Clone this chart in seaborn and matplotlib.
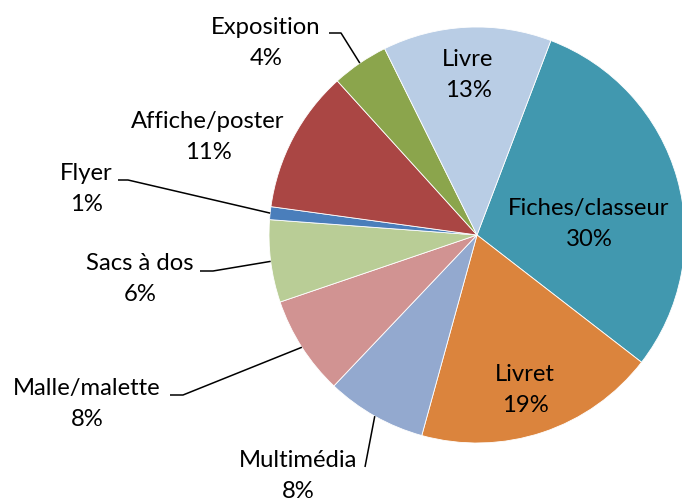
import numpy as np
import matplotlib
matplotlib.use("Agg")
import matplotlib.pyplot as plt
import seaborn as sns

# data (clockwise, starting with Fiches/classeur)
categories = ["Fiches/classeur", "Livret", "Multimédia", "Malle/malette", "Sacs à dos",
              "Flyer", "Affiche/poster", "Exposition", "Livre"]
values = [29.7, 18.8, 7.8, 7.7, 6.4, 1.0, 11.1, 4.4, 13.1]
colors = ["#4198AF", "#DB843D", "#93A9CF", "#D19392", "#B9CD96",
          "#4A7EBB", "#AA4644", "#8BA54C", "#B9CDE5"]

sns.set_theme(style="white")
plt.rcParams['font.family'] = ['Lato', 'DejaVu Sans']

fig = plt.figure(figsize=(6.82, 5), dpi=100)
ax = fig.add_axes([0, 0, 1, 1])

# pie drawn in pixel-like units (y up)
cx, cy, r = 477, 500 - 235, 208
wedges, _ = ax.pie(values, colors=sns.color_palette(colors), startangle=69.2,
                   counterclock=False, center=(cx, cy), radius=r,
                   wedgeprops=dict(edgecolor="white", linewidth=0.6))
ax.set_xlim(0, 682)
ax.set_ylim(0, 500)
ax.set_aspect("equal")
ax.axis("off")

total = sum(values)
pct = [f"{round(v / total * 100)}%" for v in values]

fs = 17.2
# label layout: text center (image px) and leader elbow points -- None for plain labels
layout = {
    "Fiches/classeur": ((589, 224), None),
    "Livret": ((525, 390), None),
    "Livre": ((468, 75), None),
    "Affiche/poster": ((208, 137), None),
    "Exposition": ((266, 43), [(329, 33), (341, 33)]),
    "Flyer": ((86, 189), [(118, 180), (128, 180)]),
    "Sacs à dos": ((140, 279), [(200, 271), (213, 271)]),
    "Malle/malette": ((87, 404), [(170, 395), (183, 395)]),
    "Multimédia": ((298, 476), [(365, 467)]),
}

for w, cat, p in zip(wedges, categories, pct):
    (tx, ty), leader = layout[cat]
    ax.text(tx, 500 - ty, f"{cat}\n{p}", ha="center", va="center",
            fontsize=fs, linespacing=1.55, color="black")
    if leader:
        mid = np.deg2rad((w.theta1 + w.theta2) / 2)
        ex, ey = cx + r * np.cos(mid), cy + r * np.sin(mid)
        xs = [pt[0] for pt in leader] + [ex]
        ys = [500 - pt[1] for pt in leader] + [ey]
        ax.plot(xs, ys, color="black", linewidth=1.1, solid_capstyle="butt")

fig.savefig("out.png", dpi=100)
